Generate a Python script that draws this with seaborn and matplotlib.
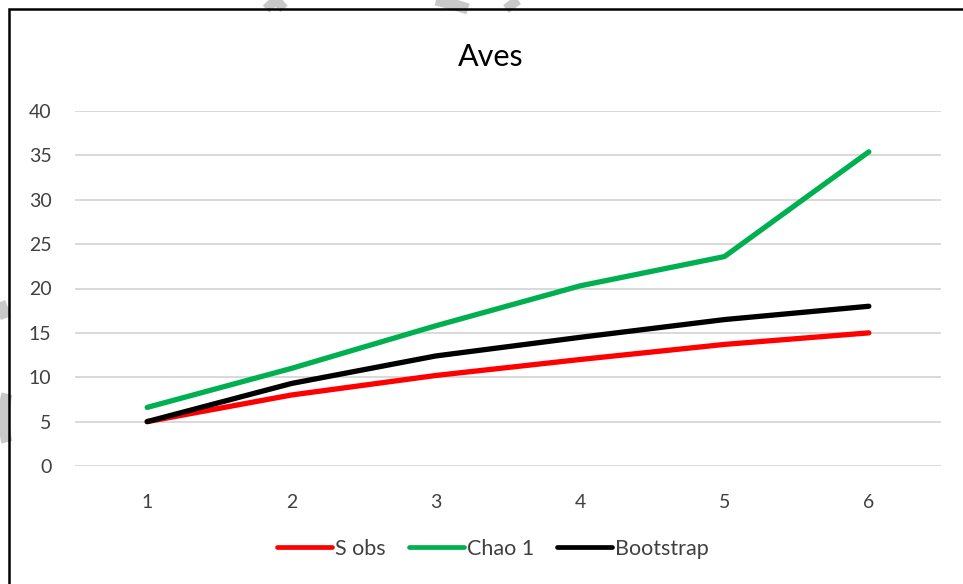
import matplotlib
matplotlib.use("Agg")
import matplotlib.pyplot as plt
import seaborn as sns
import pandas as pd
from matplotlib.patches import Rectangle, Arc
from matplotlib.lines import Line2D

# Sampling units and richness estimates
samples = [1, 2, 3, 4, 5, 6]
s_obs = [5, 8, 10.2, 12, 13.7, 15]
chao1 = [6.6, 11, 15.8, 20.3, 23.6, 35.4]
bootstrap = [5, 9.3, 12.4, 14.5, 16.5, 18]

series_names = ["S obs", "Chao 1", "Bootstrap"]
series_colors = ["#FF0000", "#00B050", "#000000"]
y_ticks = [0, 5, 10, 15, 20, 25, 30, 35, 40]

df = pd.DataFrame({
    "muestra": samples * 3,
    "valor": s_obs + chao1 + bootstrap,
    "serie": [series_names[0]] * 6 + [series_names[1]] * 6 + [series_names[2]] * 6,
})

sns.set_theme(style="white")
plt.rcParams["font.family"] = ["Lato", "DejaVu Sans"]

W, H = 963, 584
fig = plt.figure(figsize=(W / 100, H / 100), dpi=100)


def fx(px):
    return px / W


def fy(py):
    return 1 - py / H


# Faint background strokes around the frame edges
wm = "#C9C9C9"
for xs, ys, lw in [
    ([266, 276, 284], [9, 0, 9], 7),
    ([436, 452, 468], [0, 4, 9], 8),
    ([506, 518], [9, 0], 7),
    ([0, 6], [302, 318], 8),
]:
    fig.add_artist(Line2D([fx(x) for x in xs], [fy(y) for y in ys],
                          color=wm, linewidth=lw, solid_capstyle="butt", zorder=0))
fig.add_artist(Arc((fx(30), fy(418)), width=fx(52), height=105 / H, theta1=120,
                   theta2=240, transform=fig.transFigure, color=wm, linewidth=8, zorder=0))

ax = fig.add_axes([fx(75), fy(466), fx(941 - 75), (466 - 111) / H])
ax.patch.set_alpha(0)

sns.lineplot(data=df, x="muestra", y="valor", hue="serie",
             palette=dict(zip(series_names, series_colors)),
             linewidth=3.8, ax=ax, legend=False, zorder=3,
             solid_capstyle="round", solid_joinstyle="round")

ax.set_xlim(0.5, 6.5)
ax.set_ylim(0, 40)
ax.set_yticks(y_ticks)
ax.set_xticks(samples)
ax.grid(axis="y", color="#D9D9D9", linewidth=1.4, zorder=0)
ax.grid(axis="x", visible=False)
for s in ax.spines.values():
    s.set_visible(False)
ax.tick_params(axis="both", length=0, labelsize=14, labelcolor="#404040")
ax.tick_params(axis="y", pad=17)
ax.tick_params(axis="x", pad=20)
ax.set_xlabel("")
ax.set_ylabel("")

fig.text(fx(491), fy(57), "Aves", ha="center", va="center",
         fontsize=22, color="#000000")

handles = [Line2D([0], [0], color=c, linewidth=3.4, solid_capstyle="round")
           for c in series_colors]
fig.legend(handles, series_names, loc="center", bbox_to_anchor=(fx(493), fy(549)),
           ncol=3, frameon=False, fontsize=15.5, handlelength=2.55, handletextpad=0.12,
           columnspacing=1.1, labelcolor="#404040")

# Chart frame (only top and left edges fall inside the canvas)
fig.patches.append(Rectangle((fx(9), -0.1), 1.2, fy(9) + 0.1,
                             transform=fig.transFigure, fill=False,
                             edgecolor="#000000", linewidth=1.8, zorder=10))

fig.savefig("out.png", dpi=100)
